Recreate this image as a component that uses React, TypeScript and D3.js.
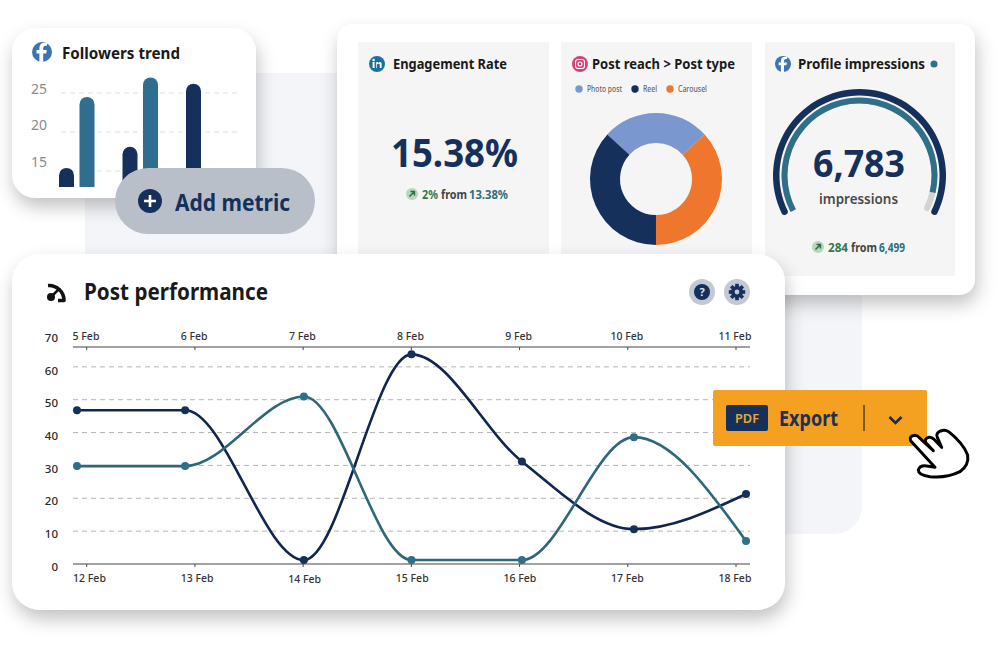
import React from "react";
import * as d3 from "d3";

const NAVY = "#16305c";
const TEAL = "#2f6f88";
const FONT = "'Noto Sans', 'Open Sans', sans-serif";

const topDates = ["5 Feb", "6 Feb", "7 Feb", "8 Feb", "9 Feb", "10 Feb", "11 Feb"];
const bottomDates = ["12 Feb", "13 Feb", "14 Feb", "15 Feb", "16 Feb", "17 Feb", "18 Feb"];
const sampleDays = [0, 0.97, 2.035, 3, 3.99, 4.995, 6];
const navySeries = [46.8, 46.8, 1.2, 63.8, 31.2, 10.6, 21.3];
const tealSeries = [29.8, 29.8, 51, 1.2, 1.2, 38.6, 7];
const yTicks = [0, 10, 20, 30, 40, 50, 60, 70];
const gridTicks = [10, 20, 30, 40, 50, 60];

const barGroups = ["g1", "g2", "g3"];
const barKeys = ["navy", "teal"];
const navyBars = [15.4, 18.1, 26.2];
const tealBars = [24.5, 27];
const barTicks = [25, 20, 15];

const donutLabels = ["Photo post", "Reel", "Carousel"];
const donutValues = [26.4, 36.8, 36.8];
const donutColors = ["#7b97cf", "#16305c", "#ee762d"];
const donutClockwiseOrder = [0, 2, 1];

const gaugeValue = 6783;
const gaugeMax = 7245;

const xPoint = d3.scaleLinear().domain([0, 6]).range([77, 746]);
const xTick = d3.scalePoint<string>().domain(bottomDates).range([86.7, 736]);
const xTopLabel = d3.scalePoint<string>().domain(topDates).range([86, 735]);
const xBottomLabel = d3.scalePoint<string>().domain(bottomDates).range([89.5, 735]);
const yScale = d3.scaleLinear().domain([0, 70]).range([564, 334]);
const yLabel = d3.scaleLinear().domain([0, 70]).range([570.5, 342]);
const lineGen = d3
  .line<number>()
  .x((_, i) => xPoint(sampleDays[i]))
  .y((d) => yScale(d))
  .curve(d3.curveMonotoneX);

const barGroupX = d3.scalePoint<string>().domain(barGroups).range([59, 186]);
const barInner = d3.scalePoint<string>().domain(barKeys).range([0, 20.5]);
const barY = d3.scaleLinear().domain([15, 25]).range([171, 93]);
const barLabelY = d3.scaleLinear().domain([15, 25]).range([166.5, 94]);

const deg = Math.PI / 180;
const donutStart = -47.5 * deg;
const pie = d3.pie<number>().sort(null).startAngle(donutStart).endAngle(donutStart + 2 * Math.PI);
const donutArc = d3.arc<d3.PieArcDatum<number>>().innerRadius(36).outerRadius(66);
const gaugeA = d3.scaleLinear().domain([0, gaugeMax]).range([-118 * deg, 118 * deg]);
const gArc = (r0: number, r1: number, a0: number, a1: number, c = 0) =>
  d3.arc().cornerRadius(c)({ innerRadius: r0, outerRadius: r1, startAngle: a0, endAngle: a1 } as any) as string;

function T(p: any) {
  const { x, y, size, w = 400, fill = "#1a1a1a", len, anchor, children } = p;
  return (
    <text x={x} y={y} fontSize={size} fontWeight={w} fill={fill} textAnchor={anchor} fontFamily={FONT}
      {...(len ? { textLength: len, lengthAdjust: "spacingAndGlyphs" } : {})}>
      {children}
    </text>
  );
}

const FB = ({ x, y, r }: any) => (
  <g transform={`translate(${x},${y}) scale(${r})`}>
    <circle r={1} fill="#3b73b4" />
    <path fill="#fff" d="M.12 1V.16H.42L.48-.2H.12V-.4Q.12-.62.36-.62H.5V-.92H.26Q-.26-.92-.26-.4V-.2H-.55V.16H-.26V1Z" />
  </g>
);

const Badge = ({ x, y }: any) => (
  <g transform={`translate(${x},${y})`}>
    <circle r={6} fill="#b8d5bd" />
    <path d="M-2.5 2.5L2 -2M-1.5 -2.4H2.4V1.5" stroke="#2c6a44" strokeWidth={1.5} fill="none" />
  </g>
);

const Bar = ({ x, v, fill }: any) => {
  const top = barY(v);
  return <path fill={fill} d={`M${x} 187V${top + 7.5}A7.5 7.5 0 0 1 ${x + 15} ${top + 7.5}V187Z`} />;
};

export default function App() {
  const order = donutClockwiseOrder;
  const arcs = pie(order.map((i) => donutValues[i]));
  return (
    <svg width={1000} height={649} viewBox="0 0 1000 649"
      style={{ position: "absolute", left: 0, top: 0, display: "block", background: "#fff" }}>
      <defs>
        <filter id="sh" x="-15%" y="-15%" width="130%" height="135%">
          <feDropShadow dx={2} dy={9} stdDeviation={9} floodColor="#000" floodOpacity={0.24} />
        </filter>
        <clipPath id="plot"><rect x={60} y={330} width={691.5} height={250} /></clipPath>
        <clipPath id="fcard"><rect x={12} y={28} width={244} height={170} rx={24} /></clipPath>
      </defs>

      {/* backdrop */}
      <rect x={85} y={73} width={777} height={461} rx={28} fill="#f3f5f8" />

      {/* Followers trend card */}
      <rect x={12} y={28} width={244} height={170} rx={24} fill="#fff" filter="url(#sh)" />
      <g clipPath="url(#fcard)">
        <FB x={42} y={52} r={10} />
        <T x={62} y={59} size={16.5} w={700} len={118}>Followers trend</T>
        {barTicks.map((t) => (
          <g key={t}>
            <line x1={61} x2={239} y1={barY(t)} y2={barY(t)} stroke="#e0e0e0" strokeDasharray="5 4" />
            <T x={47} y={barLabelY(t)} size={14} fill="#8a8a8a" anchor="end">{t}</T>
          </g>
        ))}
        {navyBars.map((v, i) => (
          <Bar key={i} x={(barGroupX(barGroups[i]) as number) + (barInner("navy") as number)} v={v} fill={NAVY} />
        ))}
        {tealBars.map((v, i) => (
          <Bar key={i} x={(barGroupX(barGroups[i]) as number) + (barInner("teal") as number)} v={v} fill="#2f6e8e" />
        ))}
      </g>

      {/* Top card */}
      <rect x={337} y={24} width={638} height={271} rx={16} fill="#fff" filter="url(#sh)" />
      <rect x={358} y={42} width={191} height={234} fill="#f5f5f6" />
      <rect x={561} y={42} width={191} height={234} fill="#f5f5f6" />
      <rect x={765} y={42} width={190} height={234} fill="#f5f5f6" />

      {/* Engagement */}
      <g transform="translate(377,64)">
        <circle r={8} fill="#1f6f9e" />
        <rect x={-4.4} y={-2} width={2} height={6} fill="#fff" />
        <circle cx={-3.4} cy={-4} r={1.2} fill="#fff" />
        <path d="M-.8 4V-2H1V-1Q3-3 4.6-1V4H2.8V.2Q1.6-1-.1.4V4Z" fill="#fff" />
      </g>
      <T x={393} y={69} size={15} w={700} len={114}>Engagement Rate</T>
      <T x={391} y={167} size={39} w={700} fill={NAVY} len={127}>15.38%</T>
      <Badge x={412} y={194} />
      <T x={422} y={199} size={12} w={700} fill="#33784f" len={16}>2%</T>
      <T x={441} y={199} size={12} w={700} fill="#444" len={26}>from</T>
      <T x={469} y={199} size={12} w={700} fill="#2f6f78" len={39}>13.38%</T>

      {/* Donut */}
      <g transform="translate(580,64)">
        <circle r={8} fill="#cf4379" />
        <rect x={-4.5} y={-4.5} width={9} height={9} rx={2.5} fill="none" stroke="#fff" strokeWidth={1.1} />
        <circle r={2} fill="none" stroke="#fff" strokeWidth={1.1} />
      </g>
      <T x={592} y={69} size={15} w={700} len={143}>Post reach &gt; Post type</T>
      {[[579, 587, 35], [635, 643, 14], [670, 678, 29]].map(([cx, tx, len], i) => (
        <g key={i}>
          <circle cx={cx} cy={89} r={3.7} fill={donutColors[i]} />
          <T x={tx} y={92} size={8} w={500} fill="#666" len={len}>{donutLabels[i]}</T>
        </g>
      ))}
      <g transform="translate(656,179)">
        {arcs.map((a, i) => (
          <path key={i} d={donutArc(a) as string} fill={donutColors[order[i]]} />
        ))}
      </g>

      {/* Gauge */}
      <FB x={783} y={64} r={8} />
      <T x={798} y={69} size={15} w={700} len={127}>Profile impressions</T>
      <circle cx={934} cy={64} r={3.5} fill={TEAL} />
      <g transform="translate(859.5,175.5)">
        <path d={gArc(80, 86.5, -118 * deg, 118 * deg, 3.2)} fill={NAVY} />
        <path d={gArc(72, 78, -118 * deg, 118 * deg, 3)} fill="#d3d3d3" />
        <path d={gArc(72, 78, gaugeA(0), gaugeA(gaugeValue), 0)} fill={TEAL} />
      </g>
      <T x={813} y={177} size={38} w={700} fill={NAVY} len={92}>6,783</T>
      <T x={819} y={204} size={15} w={600} fill="#4a4a4a" len={79}>impressions</T>
      <Badge x={818} y={247} />
      <T x={828} y={252} size={12} w={700} fill="#33784f" len={20}>284</T>
      <T x={851} y={252} size={12} w={700} fill="#444" len={26}>from</T>
      <T x={879} y={252} size={12} w={700} fill="#2f6f78" len={26}>6,499</T>

      {/* Add metric pill */}
      <rect x={115} y={168} width={200} height={66} rx={33} fill="#b9bfc9" />
      <circle cx={150} cy={201} r={12} fill={NAVY} />
      <path d="M144 201H156M150 195V207" stroke="#fff" strokeWidth={2.6} />
      <T x={175} y={211} size={24} w={700} fill={NAVY} len={115}>Add metric</T>

      {/* Post performance card */}
      <rect x={12} y={254} width={773} height={356} rx={28} fill="#fff" filter="url(#sh)" />
      <path d="M48 285.5A15 15 0 0 1 64 300.5H58" fill="none" stroke="#111" strokeWidth={3.6} strokeLinejoin="round" />
      <circle cx={51} cy={297} r={4} fill="#111" />
      <path d="M53 295L58 290" stroke="#111" strokeWidth={2.5} />
      <T x={84} y={300} size={23.5} w={700} len={184}>Post performance</T>

      <circle cx={702} cy={292} r={13} fill="#c3c9d2" />
      <circle cx={702} cy={292} r={8} fill={NAVY} />
      <text x={702} y={296} fontSize={11} fontWeight={700} fill="#dfe5ee" textAnchor="middle" fontFamily={FONT}>?</text>
      <circle cx={737} cy={292} r={13} fill="#c3c9d2" />
      <g transform="translate(737,292)">
        {[0, 45, 90, 135].map((r) => (
          <rect key={r} x={-1.8} y={-8.2} width={3.6} height={16.4} fill={NAVY} transform={`rotate(${r})`} />
        ))}
        <circle r={6} fill={NAVY} />
        <circle r={2.4} fill="#c3c9d2" />
      </g>

      {/* Line chart */}
      {gridTicks.map((t) => (
        <line key={t} x1={73} x2={750} y1={yScale(t)} y2={yScale(t)} stroke="#b5b5b5" strokeDasharray="5 4" />
      ))}
      {yTicks.map((t) => (
        <T key={t} x={58} y={yLabel(t)} size={11.5} w={500} fill="#2a2a2a" anchor="end">{t}</T>
      ))}
      <line x1={73} x2={750} y1={347} y2={347} stroke="#444" strokeWidth={1.2} />
      <line x1={73} x2={750} y1={564} y2={564} stroke="#444" strokeWidth={1.2} />
      {bottomDates.map((d, i) => (
        <g key={d}>
          <line x1={xTick(d)} x2={xTick(d)} y1={347} y2={350} stroke="#444" />
          <line x1={xTick(d)} x2={xTick(d)} y1={564} y2={567} stroke="#444" />
          <T x={xTopLabel(topDates[i])} y={340} size={10.5} w={500} fill="#333" anchor="middle">{topDates[i]}</T>
          <T x={xBottomLabel(d)} y={i === 2 ? 583 : 582} size={10.5} w={500} fill="#333" anchor="middle">{d}</T>
        </g>
      ))}
      <g clipPath="url(#plot)">
        <path d={lineGen(navySeries) as string} fill="none" stroke="#12264d" strokeWidth={2.6} />
        <path d={lineGen(tealSeries) as string} fill="none" stroke="#2e6779" strokeWidth={2.6} />
        {navySeries.map((v, i) => (
          <circle key={i} cx={xPoint(sampleDays[i])} cy={yScale(v)} r={4} fill={NAVY} />
        ))}
        {tealSeries.map((v, i) => (
          <circle key={i} cx={xPoint(sampleDays[i])} cy={yScale(v)} r={4} fill={TEAL} />
        ))}
      </g>

      {/* Export */}
      <rect x={713} y={390} width={214} height={56} rx={2} fill="#f4a021" />
      <rect x={726} y={405} width={42} height={26} rx={2} fill={NAVY} />
      <T x={735} y={423} size={12.5} w={600} fill="#e8a93a" len={24}>PDF</T>
      <T x={779} y={426} size={21} w={700} fill="#1f2f55" len={59}>Export</T>
      <line x1={864} x2={864} y1={405} y2={431} stroke="#4a3a25" strokeWidth={1.4} />
      <path d="M889.5 417L895.5 423L901.5 417" fill="none" stroke="#1f2a45" strokeWidth={2.6} />
      <g transform="translate(700,380) scale(0.3333)">
        <path fill="#fff" stroke="#000" strokeWidth={9} strokeLinejoin="round" strokeLinecap="round"
          d="M632 182Q626 168 645 166Q652 166 660 175L700 212L678 188Q672 176 686 172Q695 170 702 178L725 202L712 172Q706 160 722 153Q735 148 746 155Q790 190 803 225Q808 255 780 275Q740 295 690 290Q655 285 655 270Q660 255 680 258L705 262Z" />
      </g>
    </svg>
  );
}
